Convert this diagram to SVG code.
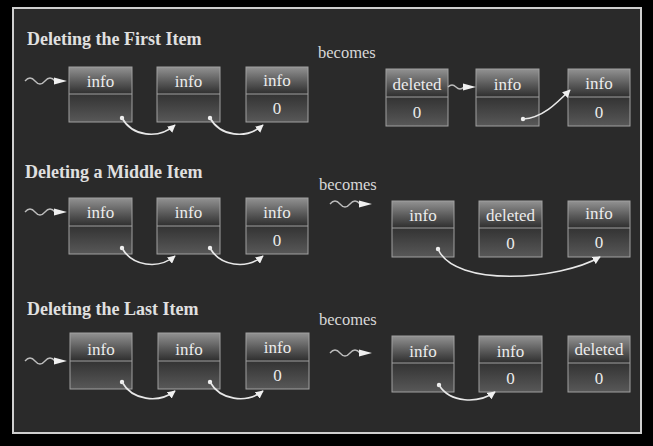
<svg xmlns="http://www.w3.org/2000/svg" xmlns:xlink="http://www.w3.org/1999/xlink" width="653" height="446" viewBox="0 0 653 446">
<style>
.title{font-family:"Liberation Serif","DejaVu Serif",serif;font-weight:bold;font-size:18px;fill:#e0e0e0}
.bec{font-family:"Liberation Serif","DejaVu Serif",serif;font-size:16.5px;fill:#d8d8d8}
.lbl{font-family:"Liberation Serif","DejaVu Serif",serif;font-size:17px;fill:#ececec;text-anchor:middle}
.frame{fill:none;stroke:#a0a0a0;stroke-width:1}
.div{stroke:#a0a0a0;stroke-width:1}
.conn{fill:none;stroke:#e8e8e8;stroke-width:1.6}
.dot{fill:#f0f0f0}
.sq{fill:none;stroke:#bdbdbd;stroke-width:1.3}
.sqh{fill:#f0f0f0}
</style>
<defs>
<linearGradient id="gt" x1="0" y1="0" x2="0" y2="1">
<stop offset="0" stop-color="#929292"/>
<stop offset="0.55" stop-color="#5a5a5a"/>
<stop offset="1" stop-color="#2e2e2e"/>
</linearGradient>
<linearGradient id="gb" x1="0" y1="0" x2="0" y2="1">
<stop offset="0" stop-color="#333"/>
<stop offset="1" stop-color="#585858"/>
</linearGradient>
<marker id="ah" viewBox="0 0 10 10" refX="9" refY="5" markerWidth="5" markerHeight="5" orient="auto" markerUnits="strokeWidth">
<path d="M0,0 L10,5 L0,10 Z" fill="#f0f0f0"/>
</marker>
<g id="squig">
<path class="sq" d="M-42,0 q5,-6 10,0 t10,0 t10,0 L-10,0"/>
<path class="sqh" d="M-13,-3.5 L0,0 L-13,3.5 Z"/>
</g>
</defs>
<rect x="0" y="0" width="653" height="446" fill="#000"/>
<rect x="13" y="8" width="628" height="425" fill="#2a2a2a" stroke="#cfcfcf" stroke-width="2"/>

<text class="title" x="27" y="45">Deleting the First Item</text>
<text class="title" x="25" y="178">Deleting a Middle Item</text>
<text class="title" x="27" y="315">Deleting the Last Item</text>
<text class="bec" x="318" y="58">becomes</text>
<text class="bec" x="319" y="190">becomes</text>
<text class="bec" x="319" y="325">becomes</text>

<!-- Row 1 left -->
<g id="r1n1"><rect x="69" y="67" width="63" height="27" fill="url(#gt)"/><rect x="69" y="94" width="63" height="28" fill="url(#gb)"/><rect class="frame" x="69" y="67" width="63" height="55"/><line class="div" x1="69" y1="94" x2="132" y2="94"/><text class="lbl" x="100.5" y="87">info</text></g>
<g id="r1n2"><rect x="157" y="67" width="63" height="27" fill="url(#gt)"/><rect x="157" y="94" width="63" height="28" fill="url(#gb)"/><rect class="frame" x="157" y="67" width="63" height="55"/><line class="div" x1="157" y1="94" x2="220" y2="94"/><text class="lbl" x="188.5" y="87">info</text></g>
<g id="r1n3"><rect x="246" y="67" width="62" height="27" fill="url(#gt)"/><rect x="246" y="94" width="62" height="28" fill="url(#gb)"/><rect class="frame" x="246" y="67" width="62" height="55"/><line class="div" x1="246" y1="94" x2="308" y2="94"/><text class="lbl" x="277" y="86">info</text><text class="lbl" x="277" y="114">0</text></g>
<!-- Row 1 right -->
<g id="r1m1"><rect x="386" y="69" width="62" height="28" fill="url(#gt)"/><rect x="386" y="97" width="62" height="29" fill="url(#gb)"/><rect class="frame" x="386" y="69" width="62" height="57"/><line class="div" x1="386" y1="97" x2="448" y2="97"/><text class="lbl" x="417" y="90">deleted</text><text class="lbl" x="417" y="118">0</text></g>
<g id="r1m2"><rect x="476" y="69" width="63" height="28" fill="url(#gt)"/><rect x="476" y="97" width="63" height="29" fill="url(#gb)"/><rect class="frame" x="476" y="69" width="63" height="57"/><line class="div" x1="476" y1="97" x2="539" y2="97"/><text class="lbl" x="507.5" y="90">info</text></g>
<g id="r1m3"><rect x="568" y="69" width="62" height="28" fill="url(#gt)"/><rect x="568" y="97" width="62" height="29" fill="url(#gb)"/><rect class="frame" x="568" y="69" width="62" height="57"/><line class="div" x1="568" y1="97" x2="630" y2="97"/><text class="lbl" x="599" y="89">info</text><text class="lbl" x="599" y="118">0</text></g>

<!-- Row 2 left -->
<g id="r2n1"><rect x="69" y="198" width="63" height="28" fill="url(#gt)"/><rect x="69" y="226" width="63" height="28" fill="url(#gb)"/><rect class="frame" x="69" y="198" width="63" height="56"/><line class="div" x1="69" y1="226" x2="132" y2="226"/><text class="lbl" x="100.5" y="218">info</text></g>
<g id="r2n2"><rect x="157" y="198" width="63" height="28" fill="url(#gt)"/><rect x="157" y="226" width="63" height="28" fill="url(#gb)"/><rect class="frame" x="157" y="198" width="63" height="56"/><line class="div" x1="157" y1="226" x2="220" y2="226"/><text class="lbl" x="188.5" y="218">info</text></g>
<g id="r2n3"><rect x="246" y="198" width="62" height="28" fill="url(#gt)"/><rect x="246" y="226" width="62" height="28" fill="url(#gb)"/><rect class="frame" x="246" y="198" width="62" height="56"/><line class="div" x1="246" y1="226" x2="308" y2="226"/><text class="lbl" x="277" y="218">info</text><text class="lbl" x="277" y="246">0</text></g>
<!-- Row 2 right -->
<g id="r2m1"><rect x="392" y="201" width="62" height="27" fill="url(#gt)"/><rect x="392" y="228" width="62" height="29" fill="url(#gb)"/><rect class="frame" x="392" y="201" width="62" height="56"/><line class="div" x1="392" y1="228" x2="454" y2="228"/><text class="lbl" x="423" y="221">info</text></g>
<g id="r2m2"><rect x="479" y="201" width="63" height="27" fill="url(#gt)"/><rect x="479" y="228" width="63" height="29" fill="url(#gb)"/><rect class="frame" x="479" y="201" width="63" height="56"/><line class="div" x1="479" y1="228" x2="542" y2="228"/><text class="lbl" x="510.5" y="221">deleted</text><text class="lbl" x="510.5" y="249">0</text></g>
<g id="r2m3"><rect x="568" y="201" width="62" height="27" fill="url(#gt)"/><rect x="568" y="228" width="62" height="29" fill="url(#gb)"/><rect class="frame" x="568" y="201" width="62" height="56"/><line class="div" x1="568" y1="228" x2="630" y2="228"/><text class="lbl" x="599" y="219">info</text><text class="lbl" x="599" y="248">0</text></g>

<!-- Row 3 left -->
<g id="r3n1"><rect x="70" y="333" width="62" height="28" fill="url(#gt)"/><rect x="70" y="361" width="62" height="28" fill="url(#gb)"/><rect class="frame" x="70" y="333" width="62" height="56"/><line class="div" x1="70" y1="361" x2="132" y2="361"/><text class="lbl" x="101" y="355">info</text></g>
<g id="r3n2"><rect x="158" y="333" width="62" height="28" fill="url(#gt)"/><rect x="158" y="361" width="62" height="28" fill="url(#gb)"/><rect class="frame" x="158" y="333" width="62" height="56"/><line class="div" x1="158" y1="361" x2="220" y2="361"/><text class="lbl" x="189" y="355">info</text></g>
<g id="r3n3"><rect x="246" y="333" width="63" height="28" fill="url(#gt)"/><rect x="246" y="361" width="63" height="28" fill="url(#gb)"/><rect class="frame" x="246" y="333" width="63" height="56"/><line class="div" x1="246" y1="361" x2="309" y2="361"/><text class="lbl" x="277.5" y="353">info</text><text class="lbl" x="277.5" y="381">0</text></g>
<!-- Row 3 right -->
<g id="r3m1"><rect x="392" y="336" width="62" height="27" fill="url(#gt)"/><rect x="392" y="363" width="62" height="29" fill="url(#gb)"/><rect class="frame" x="392" y="336" width="62" height="56"/><line class="div" x1="392" y1="363" x2="454" y2="363"/><text class="lbl" x="423" y="357">info</text></g>
<g id="r3m2"><rect x="479" y="336" width="63" height="27" fill="url(#gt)"/><rect x="479" y="363" width="63" height="29" fill="url(#gb)"/><rect class="frame" x="479" y="336" width="63" height="56"/><line class="div" x1="479" y1="363" x2="542" y2="363"/><text class="lbl" x="510.5" y="357">info</text><text class="lbl" x="510.5" y="384">0</text></g>
<g id="r3m3"><rect x="568" y="336" width="62" height="27" fill="url(#gt)"/><rect x="568" y="363" width="62" height="29" fill="url(#gb)"/><rect class="frame" x="568" y="336" width="62" height="56"/><line class="div" x1="568" y1="363" x2="630" y2="363"/><text class="lbl" x="599" y="355">deleted</text><text class="lbl" x="599" y="384">0</text></g>

<g id="connectors">
<use xlink:href="#squig" transform="translate(67,81)"/>
<use xlink:href="#squig" transform="translate(67,212)"/>
<use xlink:href="#squig" transform="translate(67,361)"/>
<use xlink:href="#squig" transform="translate(372,204)"/>
<use xlink:href="#squig" transform="translate(372,353)"/>
<path class="sq" d="M448,87 q4,-4 8,0 t8,0 L468,87"/>
<path class="sqh" d="M463,83.5 L476,87 L463,90.5 Z"/>

<circle class="dot" cx="122" cy="118" r="2.2"/>
<path class="conn" d="M122,118 C132,136 158,140 175,125" marker-end="url(#ah)"/>
<circle class="dot" cx="210" cy="118" r="2.2"/>
<path class="conn" d="M210,118 C220,136 246,140 263,125" marker-end="url(#ah)"/>
<circle class="dot" cx="523" cy="119" r="2.2"/>
<path class="conn" d="M523,119 C542,118 556,104 570,90" marker-end="url(#ah)"/>

<circle class="dot" cx="122" cy="248" r="2.2"/>
<path class="conn" d="M122,248 C132,266 158,270 175,256" marker-end="url(#ah)"/>
<circle class="dot" cx="210" cy="248" r="2.2"/>
<path class="conn" d="M210,248 C220,266 246,270 263,256" marker-end="url(#ah)"/>
<circle class="dot" cx="438" cy="249" r="2.2"/>
<path class="conn" d="M438,249 C455,288 560,280 600,257" marker-end="url(#ah)"/>

<circle class="dot" cx="122" cy="382" r="2.2"/>
<path class="conn" d="M122,382 C132,400 158,404 175,391" marker-end="url(#ah)"/>
<circle class="dot" cx="210" cy="382" r="2.2"/>
<path class="conn" d="M210,382 C220,400 246,404 263,391" marker-end="url(#ah)"/>
<circle class="dot" cx="439" cy="385" r="2.2"/>
<path class="conn" d="M439,385 C450,403 478,404 495,392" marker-end="url(#ah)"/>
</g>
</svg>
